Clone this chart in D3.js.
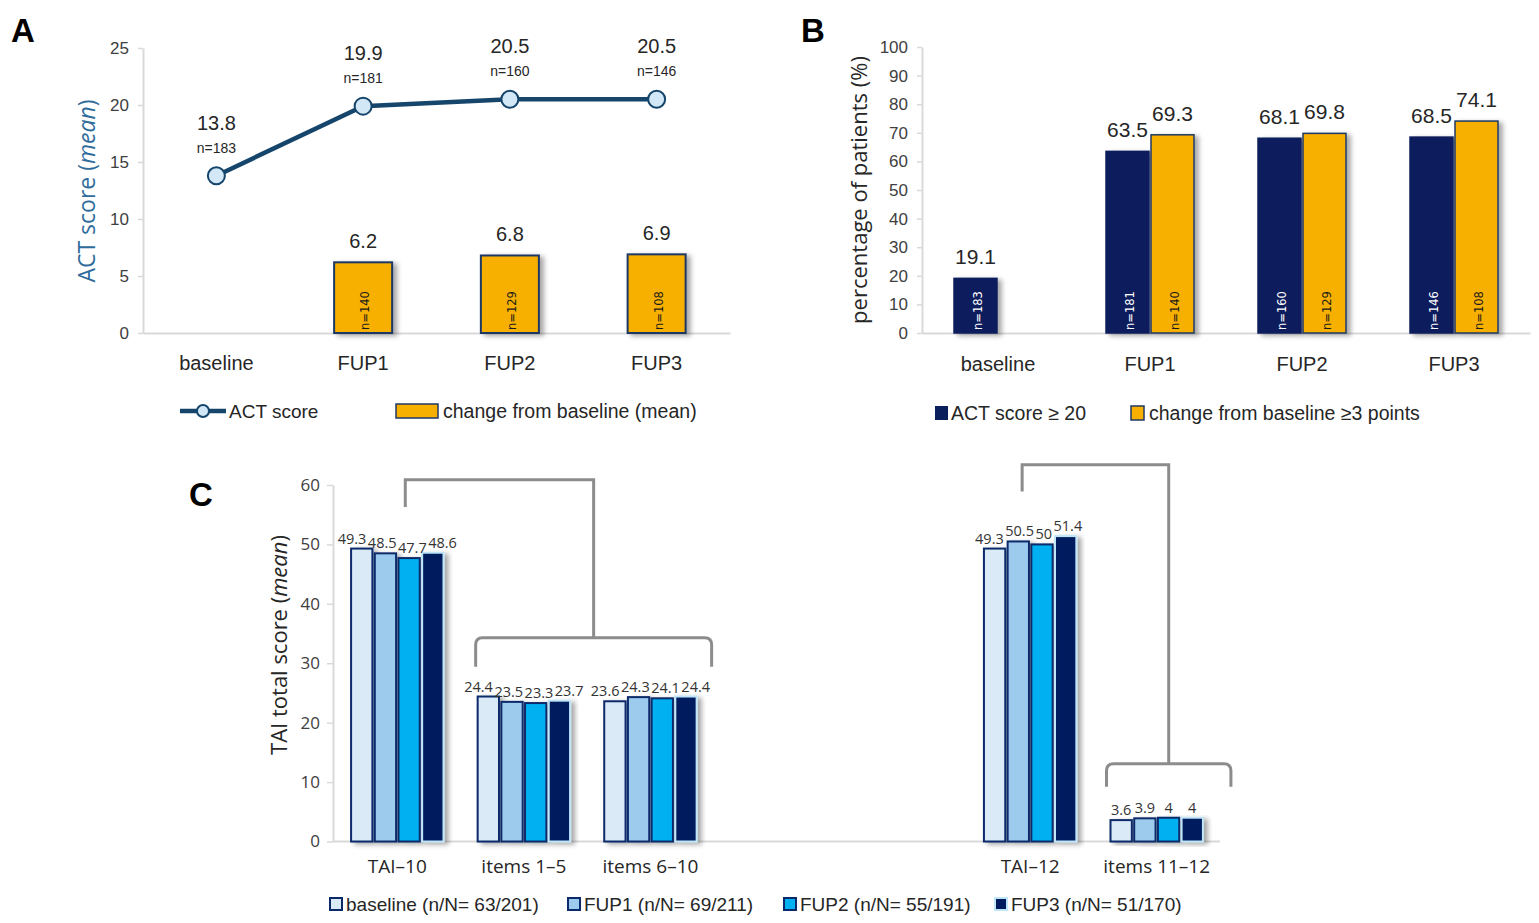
<!DOCTYPE html>
<html>
<head>
<meta charset="utf-8">
<script src="https://cdn.jsdelivr.net/npm/d3@7"></script>
<style>
  body { margin: 0; background: #fff; }
  svg { display: block; }
</style>
</head>
<body>
<div id="chart"></div>
<script>
// ---- data ----
const timepoints = ["baseline", "FUP1", "FUP2", "FUP3"];

// panel A
const actMean = [13.8, 19.9, 20.5, 20.5];
const actMeanN = [183, 181, 160, 146];
const changeMean = [null, 6.2, 6.8, 6.9];
const changeMeanN = [null, 140, 129, 108];
const ticksA = [0, 5, 10, 15, 20, 25];

// panel B
const actPct = [19.1, 63.5, 68.1, 68.5];
const actPctN = [183, 181, 160, 146];
const changePct = [null, 69.3, 69.8, 74.1];
const changePctN = [null, 140, 129, 108];
const ticksB = [0, 10, 20, 30, 40, 50, 60, 70, 80, 90, 100];

// panel C
const taiCategories = ["TAI–10", "items 1–5", "items 6–10", "TAI–12", "items 11–12"];
const taiSeries = ["baseline", "FUP1", "FUP2", "FUP3"];
const taiSeriesLabels = ["baseline (n/N= 63/201)", "FUP1 (n/N= 69/211)", "FUP2 (n/N= 55/191)", "FUP3 (n/N= 51/170)"];
const taiBaseline = [49.3, 24.4, 23.6, 49.3, 3.6];
const taiFup1 = [48.5, 23.5, 24.3, 50.5, 3.9];
const taiFup2 = [47.7, 23.3, 24.1, 50, 4];
const taiFup3 = [48.6, 23.7, 24.4, 51.4, 4];
const ticksC = [0, 10, 20, 30, 40, 50, 60];

// ---- fonts / colours ----
const narrow = "'Liberation Sans Narrow', 'Arial Narrow', sans-serif";
const sans = "'Open Sans', 'Noto Sans', sans-serif";
const axisGrey = "#d9d9d9";
const textDark = "#404040";
const navy = "#0b1f5c";
const orange = "#f8b000";
const outline = "#1f3864";

const svg = d3.select("#chart").append("svg")
    .attr("width", 1539)
    .attr("height", 923);

svg.append("rect").attr("width", 1539).attr("height", 923).attr("fill", "#fff");

// soft shadow like the office charts
svg.append("defs").append("filter")
    .attr("id", "shadow")
    .attr("x", "-30%").attr("y", "-10%").attr("width", "170%").attr("height", "130%")
    .append("feDropShadow")
    .attr("dx", 4).attr("dy", 2).attr("stdDeviation", 2.5)
    .attr("flood-color", "#000").attr("flood-opacity", 0.35);

// style a d3 axis group
function styleAxis(g, font, size) {
    g.select(".domain").attr("stroke", axisGrey).attr("stroke-width", 2);
    g.selectAll(".tick line").attr("stroke", axisGrey).attr("stroke-width", 1.5);
    g.selectAll(".tick text")
        .attr("fill", textDark)
        .style("font-family", font)
        .style("font-size", size + "px");
}

// panel letter
function panelLetter(x, y, t) {
    svg.append("text")
        .attr("x", x).attr("y", y)
        .style("font-family", "'Liberation Sans', Arial, sans-serif")
        .style("font-weight", "bold")
        .style("font-size", "33px")
        .attr("fill", "#000")
        .text(t);
}

// rotated n= label inside a bar
function nLabel(g, x, y, n, color) {
    g.append("text")
        .attr("transform", `translate(${x},${y}) rotate(-90)`)
        .attr("dy", "0.35em")
        .style("font-family", "'DejaVu Sans', Verdana, sans-serif")
        .style("font-size", "11.5px")
        .attr("fill", color)
        .text("n=" + n);
}

// ================= Panel A =================
panelLetter(11, 42, "A");

const xA = d3.scaleBand().domain(timepoints).range([143, 730]);
const yA = d3.scaleLinear().domain([0, 25]).range([333, 48]);
const gA = svg.append("g");

gA.append("g")
    .attr("transform", "translate(143,0)")
    .call(d3.axisLeft(yA).tickValues(ticksA).tickSize(5).tickSizeOuter(0).tickPadding(9))
    .call(g => styleAxis(g, narrow, 17));

gA.append("g")
    .attr("transform", "translate(0,333)")
    .call(d3.axisBottom(xA).tickSize(0).tickPadding(23))
    .call(g => styleAxis(g, narrow, 20))
    .call(g => g.selectAll(".tick text").attr("fill", "#262626"));

// change from baseline bars
const barWA = 58;
const chgA = timepoints.map((t, i) => ({ t: t, v: changeMean[i], n: changeMeanN[i] }))
    .filter(d => d.v !== null);

gA.selectAll(".barA")
    .data(chgA)
    .enter().append("rect")
    .attr("class", "barA")
    .attr("x", d => xA(d.t) + xA.bandwidth() / 2 - barWA / 2)
    .attr("y", d => yA(d.v))
    .attr("width", barWA)
    .attr("height", d => yA(0) - yA(d.v))
    .attr("fill", orange)
    .attr("stroke", outline)
    .attr("stroke-width", 2)
    .attr("filter", "url(#shadow)");

gA.selectAll(".valA")
    .data(chgA)
    .enter().append("text")
    .attr("x", d => xA(d.t) + xA.bandwidth() / 2)
    .attr("y", d => yA(d.v) - 14)
    .attr("text-anchor", "middle")
    .style("font-family", narrow)
    .style("font-size", "20px")
    .attr("fill", "#262626")
    .text(d => d.v);

chgA.forEach(d => nLabel(gA, xA(d.t) + xA.bandwidth() / 2 + 2, 330, d.n, "#1a1a1a"));

// ACT score line
const lineColor = "#15456b";
const actPts = timepoints.map((t, i) => ({ t: t, v: actMean[i], n: actMeanN[i] }));
const line = d3.line()
    .x(d => xA(d.t) + xA.bandwidth() / 2)
    .y(d => yA(d.v));

gA.append("path")
    .datum(actPts)
    .attr("d", line)
    .attr("fill", "none")
    .attr("stroke", lineColor)
    .attr("stroke-width", 4.5);

gA.selectAll(".dotA")
    .data(actPts)
    .enter().append("circle")
    .attr("cx", d => xA(d.t) + xA.bandwidth() / 2)
    .attr("cy", d => yA(d.v))
    .attr("r", 8.5)
    .attr("fill", "#d3e8f7")
    .attr("stroke", lineColor)
    .attr("stroke-width", 2);

gA.selectAll(".lblA")
    .data(actPts)
    .enter().append("text")
    .attr("x", d => xA(d.t) + xA.bandwidth() / 2)
    .attr("y", d => yA(d.v) - 46)
    .attr("text-anchor", "middle")
    .style("font-family", narrow)
    .style("font-size", "20px")
    .attr("fill", "#262626")
    .text(d => d.v);

gA.selectAll(".nA")
    .data(actPts)
    .enter().append("text")
    .attr("x", d => xA(d.t) + xA.bandwidth() / 2)
    .attr("y", d => yA(d.v) - 23)
    .attr("text-anchor", "middle")
    .style("font-family", narrow)
    .style("font-size", "14px")
    .attr("fill", "#262626")
    .text(d => "n=" + d.n);

// y title
const titleA = gA.append("text")
    .attr("transform", "translate(95,191) rotate(-90)")
    .attr("text-anchor", "middle")
    .style("font-family", sans)
    .style("font-size", "23px")
    .attr("fill", "#2f6c9b");
titleA.append("tspan").text("ACT score (");
titleA.append("tspan").style("font-style", "italic").text("mean");
titleA.append("tspan").text(")");

// legend A
gA.append("line").attr("x1", 180).attr("x2", 226).attr("y1", 411).attr("y2", 411)
    .attr("stroke", lineColor).attr("stroke-width", 4.5);
gA.append("circle").attr("cx", 203).attr("cy", 411).attr("r", 6)
    .attr("fill", "#d3e8f7").attr("stroke", lineColor).attr("stroke-width", 2);
gA.append("text").attr("x", 229).attr("y", 411).attr("dy", "0.35em")
    .style("font-family", narrow).style("font-size", "19px").attr("fill", "#262626")
    .text("ACT score");
gA.append("rect").attr("x", 396).attr("y", 404).attr("width", 42).attr("height", 14)
    .attr("fill", orange).attr("stroke", outline).attr("stroke-width", 1.5);
gA.append("text").attr("x", 443).attr("y", 411).attr("dy", "0.35em")
    .style("font-family", narrow).style("font-size", "19.5px").attr("fill", "#262626")
    .text("change from baseline (mean)");

// ================= Panel B =================
panelLetter(801, 42, "B");

const xB = d3.scaleBand().domain(timepoints).range([922, 1530]);
const yB = d3.scaleLinear().domain([0, 100]).range([333, 47]);
const gB = svg.append("g");

gB.append("g")
    .attr("transform", "translate(922,0)")
    .call(d3.axisLeft(yB).tickValues(ticksB).tickSize(5).tickSizeOuter(0).tickPadding(9))
    .call(g => styleAxis(g, narrow, 17));

gB.append("g")
    .attr("transform", "translate(0,333)")
    .call(d3.axisBottom(xB).tickSize(0).tickPadding(24))
    .call(g => styleAxis(g, narrow, 20))
    .call(g => g.selectAll(".tick text").attr("fill", "#262626"));

const barWB = 43;
const barsB = [];
timepoints.forEach((t, i) => {
    barsB.push({ t: t, v: actPct[i], n: actPctN[i], side: -1, fill: navy, stroke: navy, nColor: "#fff" });
    if (changePct[i] !== null) {
        barsB.push({ t: t, v: changePct[i], n: changePctN[i], side: 1, fill: orange, stroke: outline, nColor: "#1a1a1a" });
    }
});
const bxB = d => xB(d.t) + xB.bandwidth() / 2 + (d.side < 0 ? -barWB - 1 : 1);

gB.selectAll(".barB")
    .data(barsB)
    .enter().append("rect")
    .attr("class", "barB")
    .attr("x", bxB)
    .attr("y", d => yB(d.v))
    .attr("width", barWB)
    .attr("height", d => yB(0) - yB(d.v))
    .attr("fill", d => d.fill)
    .attr("stroke", d => d.stroke)
    .attr("stroke-width", 1.5)
    .attr("filter", "url(#shadow)");

gB.selectAll(".valB")
    .data(barsB)
    .enter().append("text")
    .attr("x", d => bxB(d) + barWB / 2)
    .attr("y", d => yB(d.v) - 14)
    .attr("text-anchor", "middle")
    .style("font-family", narrow)
    .style("font-size", "21px")
    .attr("fill", "#262626")
    .text(d => d.v);

barsB.forEach(d => nLabel(gB, bxB(d) + barWB / 2 + 2, 330, d.n, d.nColor));

gB.append("text")
    .attr("transform", "translate(867,190) rotate(-90)")
    .attr("text-anchor", "middle")
    .style("font-family", sans)
    .style("font-size", "22px")
    .attr("fill", "#262626")
    .text("percentage of patients (%)");

// legend B
gB.append("rect").attr("x", 935).attr("y", 406).attr("width", 13).attr("height", 14)
    .attr("fill", navy);
gB.append("text").attr("x", 951).attr("y", 413).attr("dy", "0.35em")
    .style("font-family", narrow).style("font-size", "19.5px").attr("fill", "#262626")
    .text("ACT score ≥ 20");
gB.append("rect").attr("x", 1131).attr("y", 406).attr("width", 13).attr("height", 14)
    .attr("fill", orange).attr("stroke", outline).attr("stroke-width", 1.5);
gB.append("text").attr("x", 1149).attr("y", 413).attr("dy", "0.35em")
    .style("font-family", narrow).style("font-size", "19.5px").attr("fill", "#262626")
    .text("change from baseline ≥3 points");

// ================= Panel C =================
panelLetter(189, 506, "C");

// two empty slots separate the TAI-10 block from the TAI-12 block
const slotsC = [taiCategories[0], taiCategories[1], taiCategories[2], "_gap1", "_gap2", taiCategories[3], taiCategories[4]];
const xC = d3.scaleBand().domain(slotsC).range([334, 1220]).paddingInner(0.27).paddingOuter(0.135);
const xC1 = d3.scaleBand().domain(taiSeries).range([0, xC.bandwidth()]).paddingInner(0.1);
const yC = d3.scaleLinear().domain([0, 60]).range([841.5, 485]);
const gC = svg.append("g");

gC.append("g")
    .attr("transform", "translate(333,0)")
    .call(d3.axisLeft(yC).tickValues(ticksC).tickSize(6).tickSizeOuter(0).tickPadding(7))
    .call(g => styleAxis(g, sans, 17));

gC.append("g")
    .attr("transform", "translate(0,841.5)")
    .call(d3.axisBottom(xC).tickValues(taiCategories).tickSize(0).tickPadding(18))
    .call(g => styleAxis(g, sans, 19))
    .call(g => g.select(".domain").attr("d", "M333,0H1220"))
    .call(g => g.selectAll(".tick text").attr("fill", "#262626"));

const taiValues = [taiBaseline, taiFup1, taiFup2, taiFup3];
const fillsC = ["#dbeaf7", "#9dcbee", "#00b0f0", "#001a5e"];
const strokesC = ["#0b2a6b", "#0b2a6b", "#0b2a6b", "#bfe6f8"];
const barsC = [];
taiCategories.forEach((c, ci) => {
    taiSeries.forEach((s, si) => {
        barsC.push({ c: c, s: s, si: si, v: taiValues[si][ci] });
    });
});

gC.selectAll(".barC")
    .data(barsC)
    .enter().append("rect")
    .attr("class", "barC")
    .attr("x", d => xC(d.c) + xC1(d.s))
    .attr("y", d => yC(d.v))
    .attr("width", xC1.bandwidth())
    .attr("height", d => yC(0) - yC(d.v))
    .attr("fill", d => fillsC[d.si])
    .attr("stroke", d => strokesC[d.si])
    .attr("stroke-width", 2)
    .attr("filter", "url(#shadow)");

const valC = gC.selectAll(".valC")
    .data(barsC)
    .enter().append("text")
    .attr("class", "valC")
    .attr("x", d => xC(d.c) + xC1(d.s) + xC1.bandwidth() / 2)
    .attr("y", d => yC(d.v) - 5)
    .attr("text-anchor", "middle")
    .style("font-family", sans)
    .style("font-size", "14.5px")
    .attr("fill", "#333")
    .text(d => d.v);

// spread the labels of a group sideways so they don't collide
taiCategories.forEach(c => {
    const items = valC.filter(d => d.c === c).nodes()
        .map(n => ({ node: n, x: +n.getAttribute("x"), w: n.getComputedTextLength() }));
    for (let k = 0; k < 60; k++) {
        for (let i = 1; i < items.length; i++) {
            const a = items[i - 1], b = items[i];
            const need = (a.w + b.w) / 2 + 1.5;
            const gap = b.x - a.x;
            if (gap < need) {
                const s = (need - gap) / 2;
                a.x -= s;
                b.x += s;
            }
        }
    }
    items.forEach(it => it.node.setAttribute("x", it.x));
});

// brackets linking the totals to their item groups
const cx = c => xC(c) + xC.bandwidth() / 2;
function lowerBracket(x1, x2, yTop, yEnd) {
    const r = 7;
    return `M${x1},${yEnd}V${yTop + r}Q${x1},${yTop} ${x1 + r},${yTop}H${x2 - r}Q${x2},${yTop} ${x2},${yTop + r}V${yEnd}`;
}
const bracketStyle = p => p.attr("fill", "none").attr("stroke", "#8c8c8c").attr("stroke-width", 3);

const b1L = xC(taiCategories[1]) - 2;
const b1R = xC(taiCategories[2]) + xC.bandwidth() + 15;
gC.append("path")
    .attr("d", lowerBracket(b1L, b1R, yC(34.3), yC(29.4)))
    .call(bracketStyle);
gC.append("path")
    .attr("d", `M${cx(taiCategories[0]) + 8},${yC(56.3)}V${yC(60.9)}H${(b1L + b1R) / 2}V${yC(34.3)}`)
    .call(bracketStyle);

const b2L = xC(taiCategories[4]) - 4;
const b2R = xC(taiCategories[4]) + xC.bandwidth() + 28;
gC.append("path")
    .attr("d", lowerBracket(b2L, b2R, yC(13.1), yC(9.2)))
    .call(bracketStyle);
gC.append("path")
    .attr("d", `M${cx(taiCategories[3]) - 8},${yC(58.9)}V${yC(63.4)}H${(b2L + b2R) / 2}V${yC(13.1)}`)
    .call(bracketStyle);

// y title
const titleC = gC.append("text")
    .attr("transform", "translate(287,645) rotate(-90)")
    .attr("text-anchor", "middle")
    .style("font-family", sans)
    .style("font-size", "22px")
    .attr("fill", "#262626");
titleC.append("tspan").text("TAI total score (");
titleC.append("tspan").style("font-style", "italic").text("mean");
titleC.append("tspan").text(")");

// legend C
const legendXC = [330, 568, 784, 995];
taiSeriesLabels.forEach((lbl, i) => {
    gC.append("rect")
        .attr("x", legendXC[i]).attr("y", 898).attr("width", 12).attr("height", 12)
        .attr("fill", fillsC[i]).attr("stroke", strokesC[i]).attr("stroke-width", 2);
    gC.append("text")
        .attr("x", legendXC[i] + 16).attr("y", 904).attr("dy", "0.35em")
        .style("font-family", narrow).style("font-size", "19px").attr("fill", "#262626")
        .text(lbl);
});
</script>
</body>
</html>
